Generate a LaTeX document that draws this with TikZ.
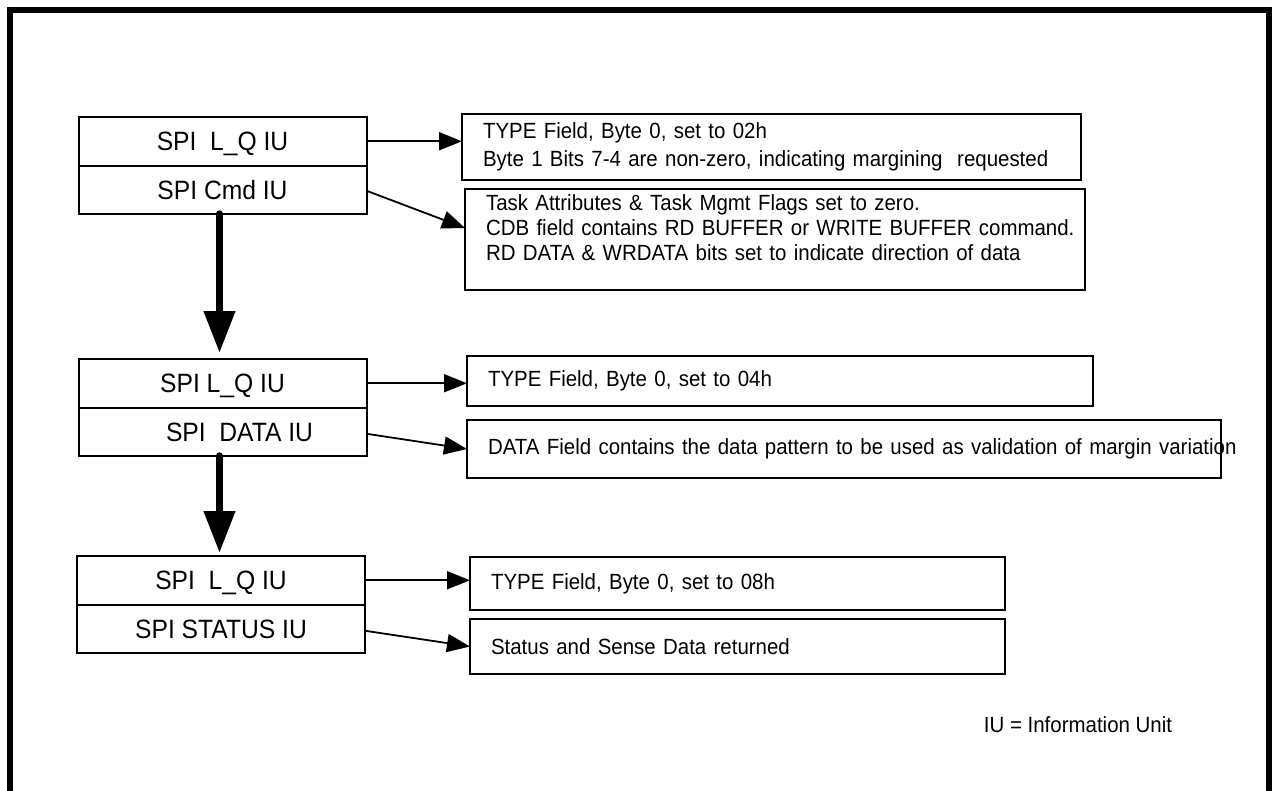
\documentclass[tikz,border=0pt]{standalone}
\usepackage{fontspec}
\setmainfont{Liberation Sans}[FakeStretch=0.93]
\usepackage{tikz}
\usetikzlibrary{calc,arrows.meta,positioning}
\tikzset{
  frame/.style={draw=black, line width=6pt},
  iubox/.style={draw=black, line width=2pt, outer sep=0pt, inner sep=0pt,
    minimum width=288pt, minimum height=48.5pt, text height=19pt, text depth=0pt,
    font=\fontsize{26.5}{30}\selectfont},
  infobox/.style={draw=black, line width=2pt, outer sep=0pt, anchor=north west,
    inner xsep=21pt, inner ysep=0pt, align=left, font=\fontsize{22}{24}\selectfont},
  link/.style={draw=black, line width=1.8pt, -{Triangle[length=23pt,width=18pt]}},
  flow/.style={draw=black, line width=7.5pt, line cap=round, -{Triangle[length=42pt,width=30pt]}},
  note/.style={font=\fontsize{22}{24}\selectfont},
}

\begin{document}
\begin{tikzpicture}[x=1pt,y=-1pt]
  \clip (0,0) rectangle (1272,790);
  % outer frame, open at the bottom
  \draw[frame] (10,800) -- (10,9.5) -- (1269,9.5) -- (1269,800);

  % IU stacks on the left
  \node[iubox] (lq1) at (222.5,141.25) {SPI\ \ L\_Q IU};
  \node[iubox, below=0pt of lq1] (cmd1) {SPI Cmd IU};
  \node[iubox] (lq2) at (222.5,383.25) {SPI L\_Q IU};
  \node[iubox, below=0pt of lq2] (data2) {\hspace*{34pt}SPI\ \ DATA IU};
  \node[iubox] (lq3) at (221,580.25) {SPI\ \ L\_Q IU};
  \node[iubox, below=0pt of lq3] (status3) {SPI STATUS IU};

  % field descriptions
  \node[infobox, minimum width=619pt, minimum height=66pt, text width=577pt] (typeA) at (462,114)
    {\mbox{TYPE Field, Byte 0, set to 02h}\\[4pt]
     \mbox{Byte 1 Bits 7-4 are non-zero, indicating margining\ \ requested}};
  \node[infobox, minimum width=620pt, minimum height=101pt, text width=578pt] (taskA) at (465,189)
    {\mbox{Task Attributes \& Task Mgmt Flags set to zero.}\\[1pt]
     \mbox{CDB field contains RD BUFFER or WRITE BUFFER command.}\\[1pt]
     \mbox{RD DATA \& WRDATA bits set to indicate direction of data}\\\mbox{}};
  \node[infobox, minimum width=626pt, minimum height=50pt, text width=584pt] (typeB) at (467,356)
    {TYPE Field, Byte 0, set to 04h};
  \node[infobox, minimum width=754pt, minimum height=58pt, text width=712pt] (fieldB) at (467,420)
    {\mbox{DATA Field contains the data pattern to be used as validation of margin variation}};
  \node[infobox, minimum width=535pt, minimum height=53pt, text width=493pt] (typeC) at (470,557)
    {TYPE Field, Byte 0, set to 08h};
  \node[infobox, minimum width=535pt, minimum height=55pt, text width=493pt] (senseC) at (470,619)
    {Status and Sense Data returned};

  \node[note] (legend) at (1078,725) {IU = Information Unit};

  % connectors
  \draw[link] (lq1.east) -- (lq1.east -| typeA.west);
  \draw[link] ([yshift=-1pt]cmd1.east) -- ([yshift=-39pt]taskA.north west);
  \draw[link] (lq2.east) -- (lq2.east -| typeB.west);
  \draw[link] ([yshift=-2pt]data2.east) -- (fieldB.west);
  \draw[link] (lq3.east) -- (lq3.east -| typeC.west);
  \draw[link] ([yshift=-2pt]status3.east) -- (senseC.west);

  \draw[flow, shorten >=6pt] ([xshift=-3pt]cmd1.south) -- ([xshift=-3pt]lq2.north);
  \draw[flow, shorten >=3pt] ([xshift=-3pt]data2.south) -- ([xshift=-1.5pt]lq3.north);
\end{tikzpicture}
\end{document}
